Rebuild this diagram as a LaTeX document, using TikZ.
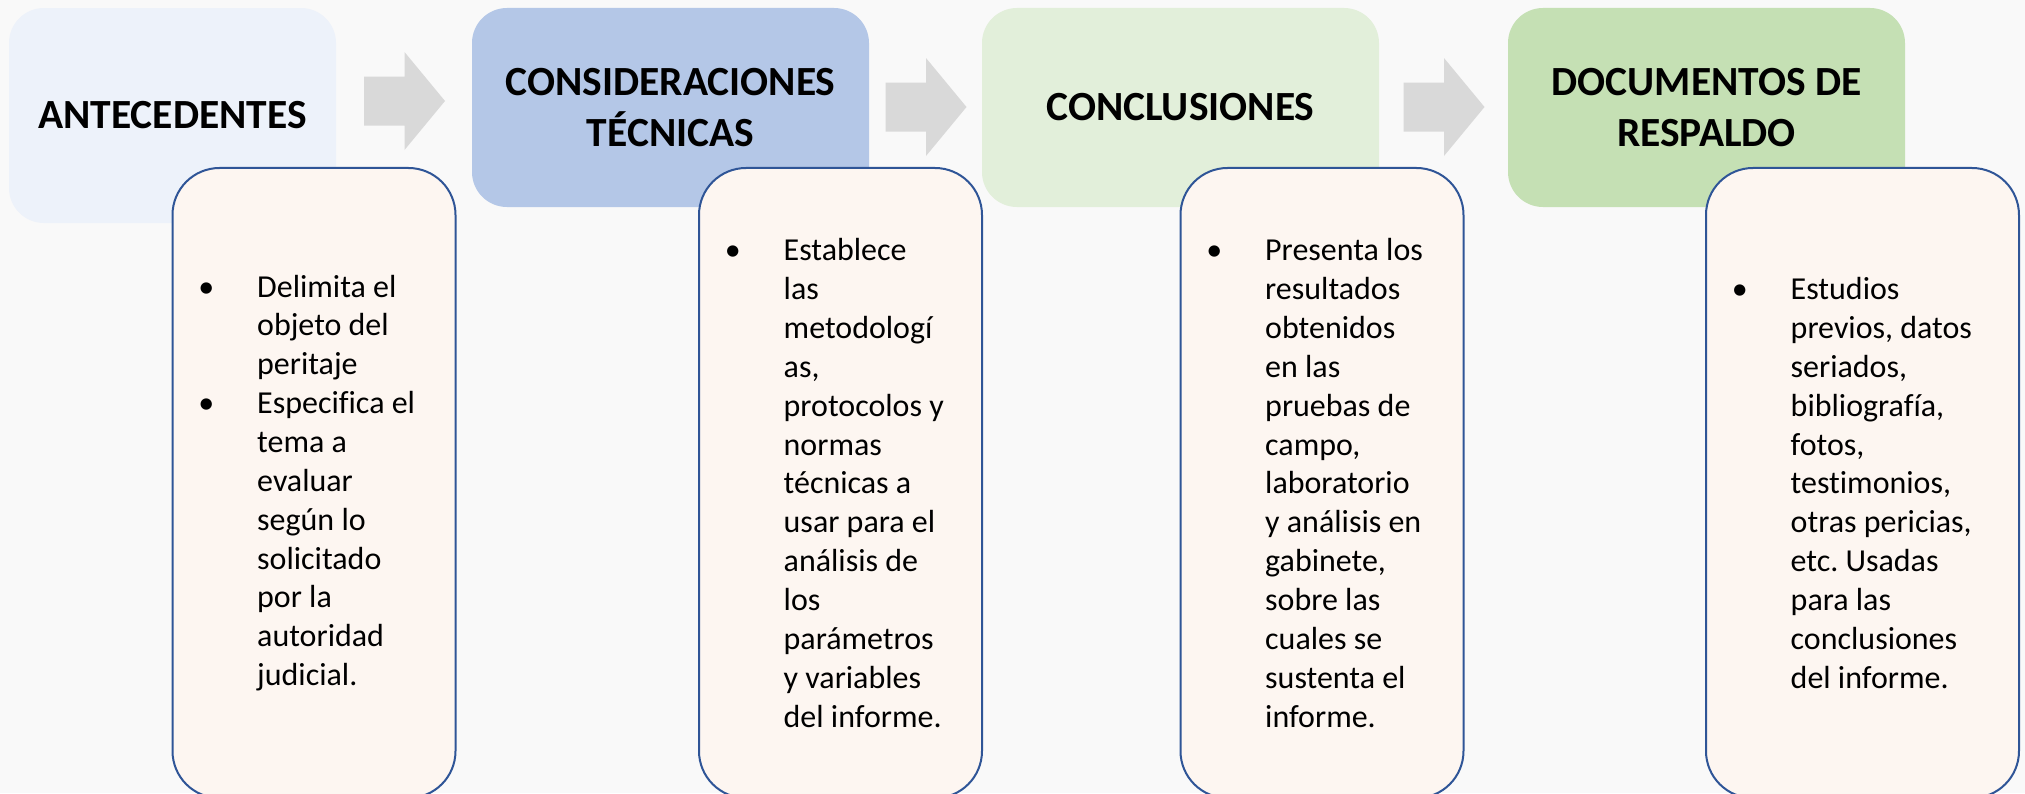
\documentclass[tikz,border=0pt]{standalone}
\usepackage{fontspec}
\setmainfont{Carlito}[Ligatures=NoCommon]
\usetikzlibrary{calc}
\definecolor{pagebg}{HTML}{F9F9F9}
\definecolor{stageA}{HTML}{EDF2FA}
\definecolor{stageB}{HTML}{B4C7E7}
\definecolor{stageC}{HTML}{E2EFDA}
\definecolor{stageD}{HTML}{C5E0B4}
\definecolor{boxfill}{HTML}{FDF6F1}
\definecolor{boxline}{HTML}{2F5597}
\definecolor{arrowgray}{HTML}{D9D9D9}
\newcommand{\blockarrow}[1]{%
  \fill[arrowgray] ([shift={(-0.405,0.245)}]#1) -- ++(0.405,0) -- ++(0,0.245)
    -- ++(0.405,-0.49) -- ++(-0.405,-0.49) -- ++(0,0.245) -- ++(-0.405,0) -- cycle;}
\newcommand{\bul}{\llap{\textbullet\hspace{0.43cm}}}
\frenchspacing

\begin{document}
\begin{tikzpicture}[
  every node/.style = {font=\fontsize{9.1}{11.06}\selectfont},
  stage/.style = {rounded corners=0.35cm, minimum width=3.97cm, minimum height=1.99cm,
    inner sep=0pt, align=center, font=\bfseries\fontsize{11.8}{14.5}\selectfont},
  detail/.style = {draw=boxline, fill=boxfill, line width=0.02cm, rounded corners=0.47cm,
    minimum width=2.83cm, minimum height=6.30cm, inner sep=0pt},
  bullets/.style = {align=left, inner sep=0pt, anchor=west}
]
  \useasboundingbox (0,0) rectangle (20.25,7.93);
  \fill[pagebg] (0,0) rectangle (20.25,7.93);
  \clip (0,0) rectangle (20.25,7.93);

  % stages
  \node[stage, fill=stageA, minimum width=3.27cm, minimum height=2.15cm] (ante) at (1.725,6.775) {ANTECEDENTES};
  \node[stage, fill=stageB] (cons) at (6.705,6.855) {CONSIDERACIONES\\TÉCNICAS};
  \node[stage, fill=stageC] (conc) at (11.805,6.855) {CONCLUSIONES};
  \node[stage, fill=stageD] (docs) at (17.065,6.855) {DOCUMENTOS DE\\RESPALDO};

  \coordinate (a1) at (4.045,6.92);
  \coordinate (a2) at (9.26,6.86);
  \coordinate (a3) at (14.44,6.86);
  \blockarrow{a1}
  \blockarrow{a2}
  \blockarrow{a3}

  % detail boxes
  \node[detail] (d1) at (3.14,3.10) {};
  \node[detail] (d2) at (8.405,3.10) {};
  \node[detail] (d3) at (13.22,3.10) {};
  \node[detail, minimum width=3.13cm] (d4) at (18.625,3.10) {};

  \node[bullets] (t1) at ([xshift=0.85cm]d1.west) {\bul Delimita el\\objeto del\\peritaje\\
    \bul Especifica el\\tema a\\evaluar\\según lo\\solicitado\\por la\\autoridad\\judicial.};
  \node[bullets] (t2) at ([xshift=0.85cm]d2.west) {\bul Establece\\las\\metodologí\\as,\\
    protocolos y\\normas\\técnicas a\\usar para el\\análisis de\\los\\parámetros\\y variables\\del informe.};
  \node[bullets] (t3) at ([xshift=0.85cm]d3.west) {\bul Presenta los\\resultados\\obtenidos\\en las\\
    pruebas de\\campo,\\laboratorio\\y análisis en\\gabinete,\\sobre las\\cuales se\\sustenta el\\informe.};
  \node[bullets] (t4) at ([xshift=0.85cm]d4.west) {\bul Estudios\\previos, datos\\seriados,\\bibliografía,\\
    fotos,\\testimonios,\\otras pericias,\\etc. Usadas\\para las\\conclusiones\\del informe.};
\end{tikzpicture}
\end{document}
